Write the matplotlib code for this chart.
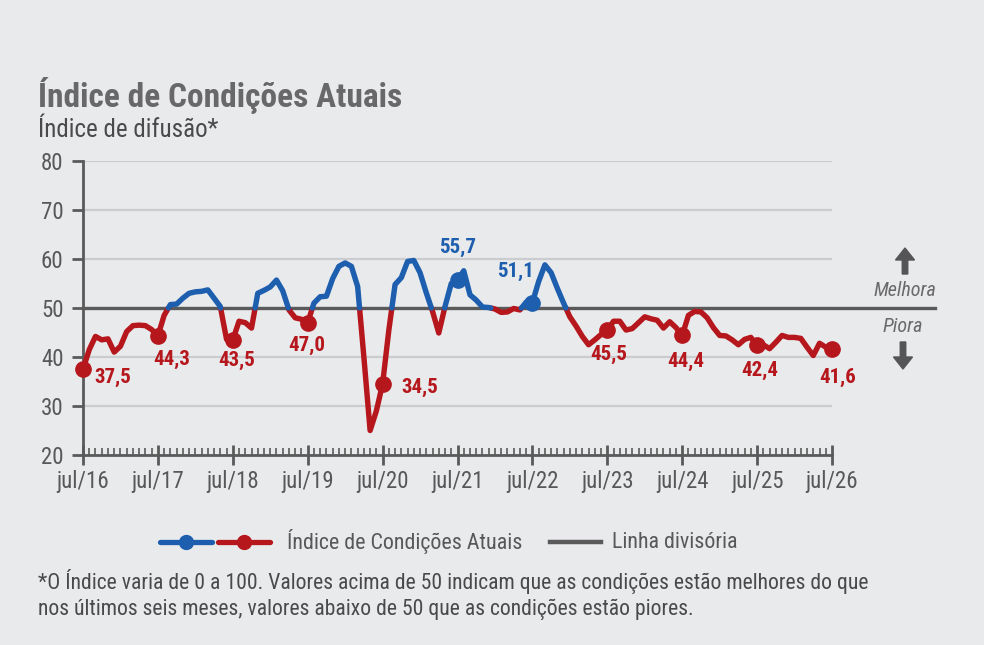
import numpy as np
import matplotlib
matplotlib.use("Agg")
import matplotlib.pyplot as plt
from matplotlib.lines import Line2D
from matplotlib.patches import FancyArrow
from matplotlib import font_manager as fm

# ---------------- data ----------------
tick_labels = ["jul/16", "jul/17", "jul/18", "jul/19", "jul/20", "jul/21",
               "jul/22", "jul/23", "jul/24", "jul/25", "jul/26"]
values = [
    # 2016 jul-dec
    37.5, 41.5, 44.2, 43.5, 43.7, 41.0,
    # 2017
    42.2, 45.2, 46.4, 46.5, 46.4, 45.6, 44.3, 48.5, 50.7, 50.8, 52.0, 53.0,
    # 2018
    53.3, 53.4, 53.7, 52.0, 50.3, 43.6, 43.5, 47.3, 47.0, 45.9, 53.0, 53.6,
    # 2019
    54.3, 55.7, 53.5, 49.6, 48.0, 47.7, 47.0, 51.0, 52.3, 52.4, 56.0, 58.5,
    # 2020
    59.2, 58.5, 54.4, 40.0, 25.0, 29.0, 34.5, 45.5, 54.8, 56.2, 59.5, 59.7,
    # 2021
    57.2, 53.1, 49.3, 44.9, 50.3, 55.0, 55.7, 57.6, 52.7, 51.6, 50.2, 50.1,
    # 2022
    49.8, 49.1, 49.2, 49.9, 49.6, 51.2, 51.1, 55.4, 58.8, 57.2, 54.0, 51.0,
    # 2023
    48.2, 46.3, 44.2, 42.5, 43.5, 44.6, 45.5, 47.3, 47.3, 45.5, 45.8, 47.0,
    # 2024
    48.2, 47.8, 47.5, 45.9, 47.2, 46.0, 44.4, 48.5, 49.3, 49.2, 48.0, 46.0,
    # 2025
    44.4, 44.3, 43.5, 42.5, 43.6, 44.0, 42.4, 42.5, 41.7, 43.0, 44.4, 44.0,
    # 2026 jan-jul
    44.0, 43.8, 42.0, 40.3, 42.8, 42.0, 41.6,
]
highlight_labels = ["37,5", "44,3", "43,5", "47,0", "34,5", "55,7",
                    "51,1", "45,5", "44,4", "42,4", "41,6"]
divide_value = 50

# ---------------- style ----------------
def pick(names):
    avail = {f.name for f in fm.fontManager.ttflist}
    for n in names:
        if n in avail:
            return n
    return "DejaVu Sans"

FONT = pick(["Liberation Sans Narrow", "Roboto Condensed", "Open Sans Condensed",
             "Roboto", "Liberation Sans"])
plt.rcParams["font.family"] = [FONT, "DejaVu Sans"]

BG = "#e9eaec"
BLUE = "#1d5fae"
RED = "#b5171d"
GRID = "#cbcccf"
AXC = "#5a5a5a"
TXT = "#58585a"

fig = plt.figure(figsize=(9.84, 6.45), dpi=100, facecolor=BG)
W, H = 984, 645
ax = fig.add_axes([83 / W, 1 - 455 / H, (832 - 83) / W, (455 - 161) / H])
ax.set_facecolor(BG)

y = np.array(values, dtype=float)
x = np.arange(len(y), dtype=float)

# insert crossing points at the dividing line
xs, ys = [], []
for i in range(len(y) - 1):
    xs.append(x[i]); ys.append(y[i])
    if (y[i] - divide_value) * (y[i + 1] - divide_value) < 0:
        t = (divide_value - y[i]) / (y[i + 1] - y[i])
        xs.append(x[i] + t); ys.append(divide_value)
xs.append(x[-1]); ys.append(y[-1])
xs = np.array(xs); ys = np.array(ys)

blue_y = np.ma.masked_where(ys < divide_value, ys)
red_y = np.ma.masked_where(ys > divide_value, ys)

# grid
for v in range(30, 81, 10):
    ax.axhline(v, color=GRID, lw=1.6, zorder=0)

ax.plot(xs, red_y, color=RED, lw=3.9, solid_joinstyle="round",
        solid_capstyle="round", zorder=3)
ax.plot(xs, blue_y, color=BLUE, lw=3.9, solid_joinstyle="round",
        solid_capstyle="round", zorder=3)

# divider line extending past the axes
ax.plot([0, 1.1375], [divide_value, divide_value], color=AXC, lw=2.4,
        transform=ax.get_yaxis_transform(), clip_on=False, zorder=2)

# highlighted July points
label_offsets = [(30, -8), (14, -23), (4, -21), (-1, -23), (37, -3), (0, 33),
                 (-17, 31), (1, -24), (4, -26), (3, -25), (6, -28)]
idx = np.arange(0, len(y), 12)
for k, i in enumerate(idx):
    c = BLUE if y[i] > divide_value else RED
    ax.plot(x[i], y[i], "o", ms=11, color=c, zorder=4, clip_on=False)
    ax.annotate(highlight_labels[k], (x[i], y[i]), xytext=label_offsets[k],
                textcoords="offset pixels", ha="center", va="center",
                fontsize=15, fontweight="bold", color=c, zorder=5)

ax.set_xlim(0, len(y) - 1)
ax.set_ylim(20, 80)
ax.set_yticks(range(20, 81, 10))
ax.set_xticks(idx)
ax.set_xticklabels(tick_labels)
ax.set_xticks(np.arange(0, len(y)), minor=True)

for s in ["top", "right"]:
    ax.spines[s].set_visible(False)
for s in ["left", "bottom"]:
    ax.spines[s].set_color(AXC)
    ax.spines[s].set_linewidth(2)
ax.tick_params(axis="y", length=8, width=2, color=AXC, labelsize=16.5,
               labelcolor=TXT, pad=6)
ax.tick_params(axis="x", which="major", direction="inout", length=14, width=2,
               color=AXC, labelsize=16.5, labelcolor=TXT, pad=4)
ax.tick_params(axis="x", which="minor", direction="in", length=5, width=1.2,
               color=AXC)

# titles
fig.text(38 / W, 1 - 95 / H, "Índice de Condições Atuais", fontsize=24,
         fontweight="bold", color="#68686a", va="center", ha="left")
fig.text(38 / W, 1 - 130 / H, "Índice de difusão*", fontsize=18,
         color="#4a4a4c", va="center", ha="left")

# melhora / piora
fig.text(905 / W, 1 - 290 / H, "Melhora", fontsize=14.5, style="italic",
         color="#6a6a6c", ha="center", va="center")
fig.text(903 / W, 1 - 326 / H, "Piora", fontsize=14.5, style="italic",
         color="#6a6a6c", ha="center", va="center")
fig.add_artist(FancyArrow(
    905 / W, 1 - 274 / H, 0, 26 / H, width=5.5 / W, head_width=19 / W,
    head_length=12 / H, length_includes_head=True, color="#555557",
    transform=fig.transFigure))
fig.add_artist(FancyArrow(
    903 / W, 1 - 342 / H, 0, -27 / H, width=5.5 / W, head_width=19 / W,
    head_length=12 / H, length_includes_head=True, color="#555557",
    transform=fig.transFigure))

# legend (manual)
ly = 1 - 542 / H
fig.add_artist(Line2D([160 / W, 212 / W], [ly, ly], color=BLUE, lw=3.8,
                      solid_capstyle="round", transform=fig.transFigure))
fig.add_artist(Line2D([186 / W], [ly], marker="o", ms=10, color=BLUE,
                      transform=fig.transFigure))
fig.add_artist(Line2D([218 / W, 270 / W], [ly, ly], color=RED, lw=3.8,
                      solid_capstyle="round", transform=fig.transFigure))
fig.add_artist(Line2D([244 / W], [ly], marker="o", ms=10, color=RED,
                      transform=fig.transFigure))
fig.text(287 / W, ly, "Índice de Condições Atuais", fontsize=15.8, color=TXT,
         va="center", ha="left")
fig.add_artist(Line2D([550 / W, 601 / W], [ly, ly], color=AXC, lw=3.2,
                      transform=fig.transFigure))
fig.text(612 / W, ly, "Linha divisória", fontsize=15.8, color=TXT,
         va="center", ha="left")

# footnote
fig.text(38 / W, 1 - 582 / H,
         "*O Índice varia de 0 a 100. Valores acima de 50 indicam que as condições estão melhores do que",
         fontsize=15.6, color="#4a4a4c", va="center", ha="left")
fig.text(38 / W, 1 - 609 / H,
         "nos últimos seis meses, valores abaixo de 50 que as condições estão piores.",
         fontsize=15.6, color="#4a4a4c", va="center", ha="left")

fig.savefig("out.png", dpi=100, facecolor=BG)
